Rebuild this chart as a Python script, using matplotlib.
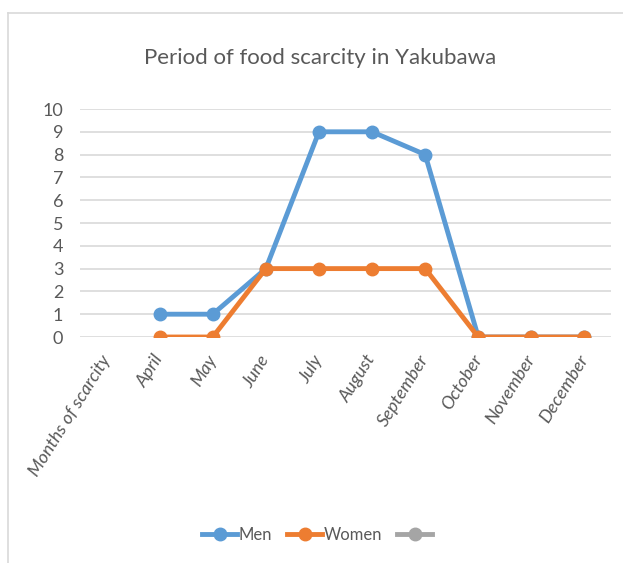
import numpy as np
import matplotlib
matplotlib.use("Agg")
from matplotlib import pyplot as plt
from matplotlib.lines import Line2D

months = ["Months of scarcity", "April", "May", "June", "July", "August",
          "September", "October", "November", "December"]
men = [np.nan, 1, 1, 3, 9, 9, 8, 0, 0, 0]
women = [np.nan, 0, 0, 3, 3, 3, 3, 0, 0, 0]
third = [np.nan] * 10
y_ticks = list(range(0, 11))

BLUE = "#5B9BD5"
ORANGE = "#ED7D31"
GREY = "#A5A5A5"
TEXT = "#595959"

plt.rcParams["font.family"] = ["Lato", "DejaVu Sans"]

fig = plt.figure(figsize=(6.23, 5.63), dpi=100)
ax = fig.add_axes([80 / 623, 1 - 337 / 563, (611 - 80) / 623, (337 - 109) / 563])

x = np.arange(len(months))
ax.plot(x, men, color=BLUE, lw=3.5, marker="o", ms=9, label="Men", zorder=3)
ax.plot(x, women, color=ORANGE, lw=3.5, marker="o", ms=9, label="Women", zorder=4)
ax.plot(x, third, color=GREY, lw=3.5, marker="o", ms=9, label=" ")

ax.set_xlim(-0.5, len(months) - 0.5)
ax.set_ylim(0, 10)
ax.set_yticks(y_ticks)
ax.yaxis.grid(True, color="#D9D9D9", lw=1.2)
ax.set_axisbelow(True)
for s in ax.spines.values():
    s.set_visible(False)
ax.tick_params(axis="both", length=0, colors=TEXT, labelsize=13)
ax.tick_params(axis="y", pad=12)
ax.set_xticks(x)
ax.set_xticklabels(months, rotation=58, ha="right", va="center",
                   rotation_mode="anchor", style="italic")
ax.tick_params(axis="x", pad=14)

fig.text(320 / 623, 1 - 58 / 563, "Period of food scarcity in Yakubawa",
         ha="center", va="center", fontsize=16, color=TEXT)

handles = [Line2D([], [], color=c, lw=3.5, marker="o", ms=9) for c in (BLUE, ORANGE, GREY)]
fig.legend(handles, ["Men", "Women", ""], loc="center", ncol=3, frameon=False,
           bbox_to_anchor=(318 / 623, 1 - 535 / 563), fontsize=12, labelcolor=TEXT,
           handlelength=2.1, handletextpad=0.1, columnspacing=0.9)

# chart frame (top and left edges visible in the crop)
fig.add_artist(Line2D([8 / 623, 1], [1 - 13 / 563, 1 - 13 / 563], color="#D9D9D9", lw=1.2))
fig.add_artist(Line2D([8 / 623, 8 / 623], [0, 1 - 13 / 563], color="#D9D9D9", lw=1.2))

fig.savefig("out.png", dpi=100)
